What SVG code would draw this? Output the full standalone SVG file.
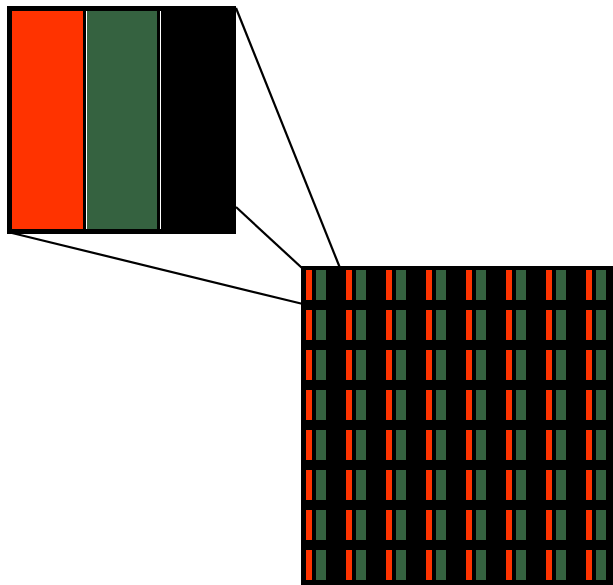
<svg xmlns="http://www.w3.org/2000/svg" xmlns:xlink="http://www.w3.org/1999/xlink" width="613" height="585" viewBox="0 0 613 585">
  <defs>
    <style>
      .bg { fill: #000000; }
      .red { fill: #ff3300; }
      .green { fill: #356240; }
      .gap { fill: #ffffff; }
      .conn { stroke: #000000; stroke-width: 2.2; fill: none; }
    </style>
    <g id="pixel">
      <rect class="red" x="0" y="0" width="6" height="30"/>
      <rect class="green" x="10" y="0" width="10" height="30"/>
    </g>
    <g id="pixelrow">
      <use xlink:href="#pixel" x="0"/>
      <use xlink:href="#pixel" x="40"/>
      <use xlink:href="#pixel" x="80"/>
      <use xlink:href="#pixel" x="120"/>
      <use xlink:href="#pixel" x="160"/>
      <use xlink:href="#pixel" x="200"/>
      <use xlink:href="#pixel" x="240"/>
      <use xlink:href="#pixel" x="280"/>
    </g>
  </defs>
  <rect x="0" y="0" width="613" height="585" fill="#ffffff"/>

  <g id="connectors">
    <line class="conn" x1="236" y1="8" x2="340" y2="268"/>
    <line class="conn" x1="236" y1="207" x2="302" y2="268"/>
    <line class="conn" x1="12" y1="233" x2="303" y2="304"/>
  </g>

  <g id="zoom-box">
    <rect class="bg" x="7" y="6" width="229" height="228"/>
    <rect class="red" x="12" y="11" width="71" height="218"/>
    <rect class="gap" x="86" y="11" width="1" height="218"/>
    <rect class="green" x="87" y="11" width="70" height="218"/>
    <rect class="gap" x="160" y="11" width="1" height="218"/>
  </g>

  <g id="pixel-grid">
    <rect class="bg" x="301" y="266" width="320" height="325"/>
    <use xlink:href="#pixelrow" x="306" y="270"/>
    <use xlink:href="#pixelrow" x="306" y="310"/>
    <use xlink:href="#pixelrow" x="306" y="350"/>
    <use xlink:href="#pixelrow" x="306" y="390"/>
    <use xlink:href="#pixelrow" x="306" y="430"/>
    <use xlink:href="#pixelrow" x="306" y="470"/>
    <use xlink:href="#pixelrow" x="306" y="510"/>
    <use xlink:href="#pixelrow" x="306" y="550"/>
  </g>
</svg>
